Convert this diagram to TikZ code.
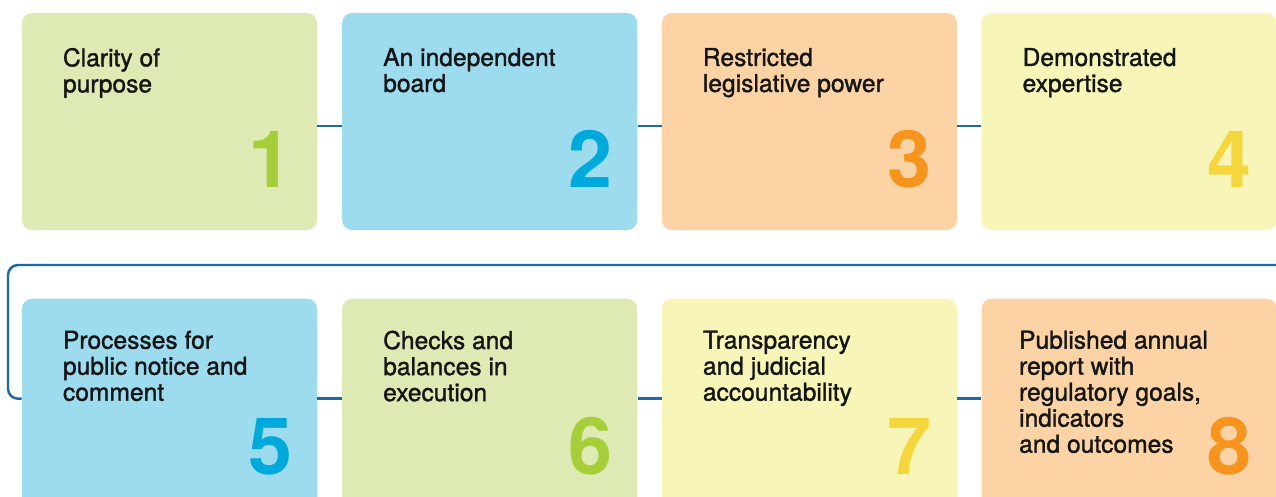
\documentclass[tikz,border=0pt]{standalone}
\usepackage{fontspec}
\setmainfont{TeX Gyre Heros}
\newfontfamily\capfont[RawFeature={embolden=1.3}]{TeX Gyre Heros}
\usepackage{tikz}
\usepackage{xcolor}
\usetikzlibrary{positioning,calc}
\definecolor{Leaf}{HTML}{DDEAB4}
\definecolor{LeafNum}{HTML}{A6CE39}
\definecolor{Sky}{HTML}{9DDCEF}
\definecolor{SkyNum}{HTML}{00A9DC}
\definecolor{Peach}{HTML}{FBD3A5}
\definecolor{PeachNum}{HTML}{F7941D}
\definecolor{Lemon}{HTML}{F7F6B8}
\definecolor{LemonNum}{HTML}{F5D73D}
\definecolor{Wire}{HTML}{1A6AAA}
\definecolor{Ink}{HTML}{151515}
\tikzset{
  card/.style={
    rectangle,rounded corners=0.2cm,draw=none,
    minimum width=5.9cm,minimum height=4.34cm,inner sep=0pt
  },
  caption/.style={
    anchor=north west,inner sep=0pt,align=left,text=Ink,
    font=\capfont\fontsize{14}{14.8}\selectfont
  },
  numeral/.style={
    anchor=base east,inner sep=0pt,
    font=\fontsize{45}{45}\selectfont\bfseries
  },
  link/.style={draw=Wire,line width=1.4pt}
}

\begin{document}
\begin{tikzpicture}
  \useasboundingbox (0,0) rectangle (25.52,9.92);
  % connectors first, cards on top
  \node[card,fill=Leaf] (b1) at (3.39,7.49) {};
  \node[card,fill=Sky,right=0.49cm of b1] (b2) {};
  \node[card,fill=Peach,right=0.48cm of b2] (b3) {};
  \node[card,fill=Lemon,right=0.48cm of b3] (b4) {};
  \node[card,fill=Sky,below=1.36cm of b1] (b5) {};
  \node[card,fill=Leaf,right=0.49cm of b5] (b6) {};
  \node[card,fill=Lemon,right=0.48cm of b6] (b7) {};
  \node[card,fill=Peach,right=0.48cm of b7] (b8) {};

  \foreach \a/\b in {b1/b2,b2/b3,b3/b4}
    \draw[link] ([yshift=-0.09cm]\a.east) -- ([yshift=-0.09cm]\b.west);
  \foreach \a/\b in {b5/b6,b6/b7,b7/b8}
    \draw[link] ([yshift=0.17cm]\a.east) -- ([yshift=0.17cm]\b.west);
  \coordinate (wrap) at (25.52,4.62);
  \coordinate (bend) at (0.16,4.62);
  \draw[link,rounded corners=0.2cm] (wrap) -- (bend)
    |- ([yshift=0.17cm]b5.west);

  % labels
  \node[caption] at ($(b1.north west)+(0.82,-0.7)$) {Clarity of\\purpose};
  \node[caption] at ($(b2.north west)+(0.82,-0.7)$) {An independent\\board};
  \node[caption] at ($(b3.north west)+(0.82,-0.7)$) {Restricted\\legislative power};
  \node[caption] at ($(b4.north west)+(0.82,-0.7)$) {Demonstrated\\expertise};
  \node[caption] at ($(b5.north west)+(0.82,-0.64)$) {Processes for\\public notice and\\comment};
  \node[caption] at ($(b6.north west)+(0.82,-0.64)$) {Checks and\\balances in\\execution};
  \node[caption] at ($(b7.north west)+(0.82,-0.64)$) {Transparency\\and judicial\\accountability};
  \node[caption] at ($(b8.north west)+(0.75,-0.64)$) {Published annual\\report with\\regulatory goals,\\indicators\\and outcomes};

  % numbers
  \node[numeral,text=LeafNum] at ($(b1.south east)+(-0.5,0.86)$) {1};
  \node[numeral,text=SkyNum] at ($(b2.south east)+(-0.5,0.86)$) {2};
  \node[numeral,text=PeachNum] at ($(b3.south east)+(-0.5,0.86)$) {3};
  \node[numeral,text=LemonNum] at ($(b4.south east)+(-0.5,0.86)$) {4};
  \node[numeral,text=SkyNum] at ($(b5.south east)+(-0.5,0.84)$) {5};
  \node[numeral,text=LeafNum] at ($(b6.south east)+(-0.5,0.84)$) {6};
  \node[numeral,text=LemonNum] at ($(b7.south east)+(-0.5,0.84)$) {7};
  \node[numeral,text=PeachNum] at ($(b8.south east)+(-0.5,0.84)$) {8};
\end{tikzpicture}
\end{document}
